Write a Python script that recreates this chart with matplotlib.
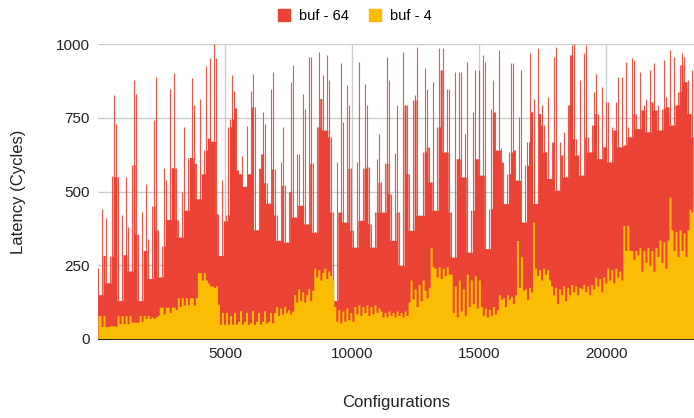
import numpy as np
import matplotlib
matplotlib.use("Agg")
import matplotlib.pyplot as plt
from matplotlib.lines import Line2D

plt.rcParams['font.family'] = ['Liberation Sans', 'DejaVu Sans']

# one sample every ~79 configurations (about 2 px of the original chart)
step = 79

buf64 = [
    240, 150, 441, 283, 410, 190, 280, 551, 827, 730,
    550, 130, 420, 285, 550, 380, 230, 590, 878, 830,
    355, 130, 430, 300, 525, 340, 205, 450, 742, 887,
    370, 210, 315, 580, 540, 405, 849, 580, 903, 580,
    405, 345, 500, 719, 436, 615, 615, 886, 792, 595,
    475, 815, 560, 640, 926, 680, 951, 670, 1000, 951,
    425, 283, 540, 400, 420, 719, 746, 896, 840, 784,
    573, 560, 620, 517, 723, 560, 840, 900, 787, 370,
    578, 628, 770, 730, 530, 460, 849, 906, 577, 420,
    334, 600, 719, 521, 328, 500, 870, 929, 413, 626,
    626, 453, 832, 781, 390, 957, 957, 595, 362, 719,
    974, 815, 895, 708, 963, 878, 685, 430, 130, 600,
    430, 934, 736, 396, 861, 793, 578, 368, 311, 600,
    940, 402, 578, 866, 793, 583, 391, 311, 430, 611,
    696, 532, 430, 595, 957, 878, 493, 334, 629, 793,
    430, 249, 974, 793, 793, 561, 368, 810, 827, 991,
    419, 419, 634, 917, 849, 650, 532, 872, 436, 719,
    985, 912, 985, 634, 849, 849, 430, 277, 906, 611,
    906, 906, 549, 696, 940, 294, 436, 770, 912, 611,
    912, 555, 963, 940, 306, 442, 781, 878, 770, 640,
    980, 646, 600, 459, 560, 634, 934, 934, 640, 538,
    753, 912, 396, 589, 668, 968, 770, 815, 459, 985,
    764, 793, 725, 634, 821, 544, 668, 957, 991, 504,
    668, 623, 702, 549, 793, 963, 997, 1000, 679, 623,
    878, 555, 968, 997, 685, 634, 725, 838, 900, 764,
    611, 855, 651, 804, 804, 600, 719, 708, 804, 889,
    651, 889, 657, 940, 719, 685, 951, 946, 764, 713,
    906, 776, 793, 815, 702, 912, 804, 934, 776, 793,
    708, 781, 946, 821, 787, 980, 725, 957, 793, 838,
    929, 968, 957, 872, 878, 764, 912, 685,
]

buf4 = [
    79, 79, 42, 79, 42, 42, 45, 45, 45, 42,
    79, 52, 79, 52, 79, 52, 79, 57, 57, 57,
    57, 80, 60, 80, 70, 80, 70, 75, 70, 75,
    80, 108, 108, 85, 108, 108, 90, 108, 108, 100,
    140, 110, 140, 115, 140, 115, 140, 140, 115, 140,
    225, 225, 200, 225, 200, 190, 180, 180, 175, 180,
    118, 50, 90, 50, 90, 50, 80, 50, 90, 50,
    60, 96, 50, 60, 90, 50, 55, 96, 50, 60,
    90, 50, 60, 96, 55, 60, 90, 55, 90, 110,
    80, 105, 85, 110, 90, 100, 85, 95, 150, 125,
    170, 130, 160, 125, 150, 170, 130, 165, 240, 210,
    235, 200, 225, 240, 205, 230, 215, 200, 110, 60,
    100, 55, 95, 60, 105, 65, 90, 60, 110, 85,
    115, 80, 110, 90, 115, 80, 110, 85, 115, 90,
    105, 95, 75, 90, 75, 95, 80, 90, 75, 95,
    80, 90, 75, 95, 80, 125, 200, 135, 170, 110,
    185, 130, 200, 165, 140, 175, 311, 245, 240, 210,
    245, 205, 240, 215, 245, 220, 220, 90, 180, 75,
    200, 95, 170, 80, 220, 110, 200, 120, 215, 105,
    200, 110, 80, 105, 75, 100, 80, 110, 85, 100,
    150, 135, 140, 110, 150, 135, 145, 120, 150, 334,
    175, 280, 165, 170, 135, 175, 160, 396, 240, 215,
    235, 200, 240, 220, 235, 200, 180, 150, 175, 120,
    170, 150, 180, 130, 175, 150, 185, 160, 180, 150,
    175, 170, 185, 160, 180, 150, 185, 170, 210, 180,
    205, 160, 210, 190, 240, 200, 235, 190, 240, 210,
    230, 200, 385, 300, 385, 300, 300, 270, 300, 285,
    310, 230, 300, 260, 310, 250, 300, 230, 310, 280,
    335, 260, 330, 240, 335, 481, 370, 300, 365, 280,
    370, 300, 360, 280, 370, 440, 430, 445,
]

configs = np.arange(len(buf64)) * step
red = '#EA4335'
yellow = '#FBBC04'

fig = plt.figure(figsize=(6.94, 4.18), dpi=100)
ax = fig.add_axes([0.1412, 0.189, 0.8588, 0.7057])

# solid body of the red series (lowest of each sample and its neighbours),
# with the individual peaks drawn as thin spikes on top
r = np.array(buf64)
body = np.minimum.reduce([r, np.roll(r, 1), np.roll(r, -1)])
ax.fill_between(configs, 0, body, step='mid', color=red, lw=0, zorder=1)
ax.vlines(configs, 0, r, color=red, lw=0.8, alpha=0.9, zorder=1.5)
ax.fill_between(configs, 0, buf4, step='mid', color=yellow, lw=0, zorder=2)

ax.set_xlim(0, 23460)
ax.set_ylim(0, 1000)
ax.set_xticks([5000, 10000, 15000, 20000])
ax.set_yticks([0, 250, 500, 750, 1000])
ax.tick_params(length=0, labelsize=11, colors='#222222', pad=6)
ax.grid(True, color='#cccccc', lw=1, zorder=0)
ax.set_axisbelow(True)
for s in ['top', 'right', 'left']:
    ax.spines[s].set_visible(False)
ax.spines['bottom'].set_color('#333333')
ax.spines['bottom'].set_zorder(3)

ax.set_xlabel('Configurations', fontsize=12, labelpad=24, color='#222222')
ax.set_ylabel('Latency (Cycles)', fontsize=12, labelpad=21, color='#222222')

handles = [Line2D([], [], marker='s', ls='', color=red, markersize=9),
           Line2D([], [], marker='s', ls='', color=yellow, markersize=9)]
fig.legend(handles, ['buf - 64', 'buf - 4'], loc='upper center', ncol=2,
           bbox_to_anchor=(0.505, 1.01), frameon=False, fontsize=10.5,
           handletextpad=0.0, columnspacing=0.8)

fig.savefig('out.png', dpi=100)
